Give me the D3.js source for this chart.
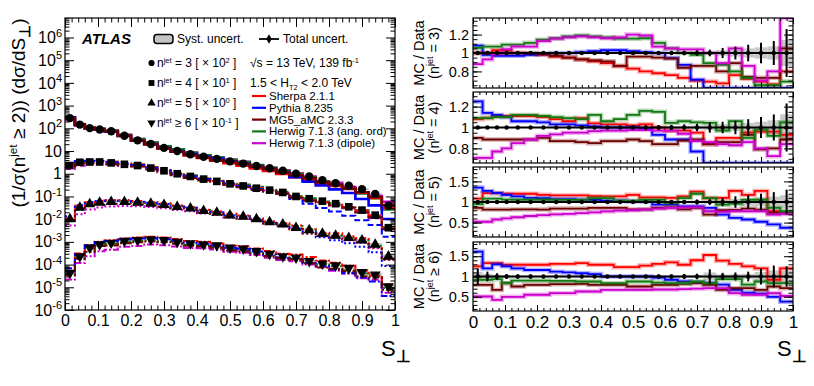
<!DOCTYPE html>
<html>
<head>
<meta charset="utf-8">
<script src="https://cdn.jsdelivr.net/npm/d3@7"></script>
<style>
  body { margin: 0; background: #fff; }
  svg { display: block; font-family: "Liberation Sans", Arial, Helvetica, sans-serif; }
  text { white-space: pre; }
</style>
</head>
<body>
<div id="chart"></div>
<script>
// --------------- Data ---------------
const binEdges = [0, 0.03, 0.06, 0.09, 0.12, 0.16, 0.2, 0.24, 0.28, 0.32, 0.36, 0.4, 0.44,
  0.48, 0.52, 0.56, 0.6, 0.64, 0.68, 0.72, 0.76, 0.8, 0.84, 0.88, 0.92, 0.96, 1.0];

// measured distributions, already multiplied by the legend factors
const data3 = [282, 145, 102, 89, 74, 47, 29.5, 20.4, 13.8, 10, 7.2, 5.6, 4.5, 3.5, 2.8, 2.2,
  1.74, 1.35, 1.0, 0.76, 0.52, 0.38, 0.3, 0.21, 0.13, 0.039];
const data4 = [2.3, 3.2, 3.3, 3.3, 3.0, 2.6, 2.3, 1.78, 1.35, 1.0, 0.76, 0.58, 0.46, 0.36, 0.29,
  0.23, 0.19, 0.15, 0.1, 0.079, 0.062, 0.048, 0.035, 0.025, 0.015, 0.0042];
const data5 = [0.01, 0.032, 0.046, 0.054, 0.058, 0.058, 0.054, 0.049, 0.043, 0.035, 0.03, 0.023,
  0.0195, 0.0148, 0.0129, 0.01, 0.0074, 0.0059, 0.0042, 0.0033, 0.0023, 0.0019, 0.0015, 0.00117,
  0.00076, 0.00023];
const data6 = [4.3e-5, 2.3e-4, 5.5e-4, 7.8e-4, 9.1e-4, 1.1e-3, 1.2e-3, 1.29e-3, 1.2e-3, 1.0e-3,
  8.5e-4, 7.8e-4, 6.9e-4, 5.5e-4, 5.0e-4, 3.9e-4, 2.95e-4, 2.3e-4, 2.0e-4, 1.4e-4, 1.1e-4, 9.1e-5,
  7.1e-5, 4.6e-5, 3.6e-5, 1.1e-5];

// relative total uncertainty of the data
const err3 = [0.008, 0.008, 0.008, 0.008, 0.008, 0.008, 0.008, 0.008, 0.008, 0.009, 0.01, 0.011,
  0.012, 0.013, 0.015, 0.017, 0.02, 0.024, 0.03, 0.036, 0.055, 0.07, 0.09, 0.11, 0.13, 0.26];
const err4 = [0.01, 0.01, 0.01, 0.01, 0.01, 0.01, 0.01, 0.01, 0.01, 0.012, 0.013, 0.014, 0.015,
  0.017, 0.02, 0.022, 0.025, 0.03, 0.035, 0.05, 0.055, 0.065, 0.08, 0.1, 0.125, 0.23];
const err5 = [0.03, 0.02, 0.02, 0.02, 0.02, 0.02, 0.02, 0.02, 0.02, 0.02, 0.025, 0.025, 0.03,
  0.03, 0.03, 0.035, 0.04, 0.05, 0.06, 0.07, 0.1, 0.14, 0.17, 0.2, 0.24, 0.3];
const err6 = [0.2, 0.12, 0.08, 0.06, 0.05, 0.05, 0.04, 0.04, 0.04, 0.04, 0.04, 0.04, 0.04, 0.04,
  0.04, 0.05, 0.05, 0.06, 0.07, 0.18, 0.09, 0.1, 0.12, 0.2, 0.27, 0.25];

// MC / Data ratios
const sherpa3 = [1.0, 1.0, 1.03, 1.03, 1.0, 0.99, 0.98, 0.96, 0.95, 0.93, 0.91, 0.89, 0.86, 0.83,
  0.8, 0.78, 0.76, 0.73, 0.7, 0.69, 0.67, 0.76, 0.72, 0.69, 0.66, 0.8];
const pythia3 = [1.08, 0.98, 0.97, 0.97, 0.97, 0.98, 0.99, 1.0, 1.0, 1.01, 1.02, 1.03, 1.03, 1.02,
  1.01, 1.0, 0.945, 0.87, 0.71, 0.59, 0.58, 0.54, 0.47, 0.37, 0.31, 0.26];
const mg53 = [1.0, 1.0, 1.0, 1.0, 1.0, 1.0, 0.99, 0.97, 0.95, 0.93, 0.92, 0.91, 0.86, 0.96, 0.96,
  0.95, 0.94, 0.84, 0.86, 0.86, 0.8, 0.89, 0.74, 0.73, 0.73, 1.05];
const herwigAng3 = [1.055, 1.07, 1.07, 1.09, 1.09, 1.11, 1.145, 1.16, 1.18, 1.19, 1.18, 1.17,
  1.155, 1.155, 1.16, 1.11, 1.05, 1.0, 0.98, 0.89, 0.87, 0.8, 0.73, 0.65, 0.65, 0.69];
const herwigDip3 = [0.88, 0.93, 0.99, 1.04, 1.07, 1.07, 1.13, 1.155, 1.17, 1.18, 1.17, 1.16, 1.17,
  1.2, 1.19, 1.07, 1.05, 1.04, 1.04, 1.0, 0.89, 1.05, 0.86, 0.7, 0.8, 1.5];

const sherpa4 = [1.08, 1.09, 1.11, 1.11, 1.11, 1.11, 1.1, 1.08, 1.06, 1.09, 1.04, 1.03, 1.03, 1.02,
  1.03, 1.0, 0.97, 0.97, 0.95, 0.84, 0.9, 0.9, 0.95, 0.96, 0.96, 0.93];
const pythia4 = [1.25, 1.14, 1.12, 1.1, 1.06, 1.06, 1.05, 1.03, 1.03, 1.02, 1.01, 1.0, 1.0, 1.0,
  0.99, 0.93, 0.885, 0.885, 0.77, 0.6, 0.5, 0.45, 0.4, 0.36, 0.37, 0.4];
const mg54 = [0.9, 0.885, 0.885, 0.885, 0.885, 0.885, 0.9, 0.87, 0.87, 0.86, 0.85, 0.87, 0.87,
  0.885, 0.87, 0.84, 0.84, 0.875, 0.885, 0.84, 0.86, 0.86, 0.93, 0.79, 0.8, 0.885];
const herwigAng4 = [1.09, 1.09, 1.1, 1.1, 1.12, 1.12, 1.11, 1.1, 1.09, 1.08, 1.12, 1.06, 1.08,
  1.12, 1.16, 1.15, 1.045, 1.06, 1.05, 1.045, 0.97, 1.06, 0.9, 0.98, 0.92, 1.05];
const herwigDip4 = [0.71, 0.71, 0.77, 0.8, 0.85, 0.885, 0.92, 0.935, 0.95, 0.95, 0.965, 0.97, 0.97,
  0.975, 0.975, 0.97, 0.97, 0.94, 0.87, 0.86, 0.84, 0.83, 0.86, 0.8, 0.725, 0.84];

const sherpa5 = [1.08, 1.215, 1.215, 1.2, 1.2, 1.2, 1.175, 1.16, 1.16, 1.16, 1.14, 1.135, 1.135,
  1.175, 1.11, 1.11, 1.1, 1.135, 1.25, 1.1, 1.1, 1.27, 1.175, 1.27, 0.775, 0.74];
const pythia5 = [1.35, 1.27, 1.22, 1.175, 1.135, 1.1, 1.095, 1.07, 1.07, 1.055, 1.055, 1.03, 1.03,
  1.015, 1.015, 0.935, 0.935, 0.895, 0.895, 0.855, 0.695, 0.615, 0.575, 0.52, 0.455, 0.375];
const mg55 = [0.855, 0.815, 0.815, 0.815, 0.82, 0.82, 0.815, 0.84, 0.84, 0.84, 0.855, 0.855, 0.855,
  0.82, 0.82, 0.855, 0.87, 0.82, 0.855, 0.695, 0.8, 0.81, 0.84, 0.815, 0.735, 0.735];
const herwigAng5 = [0.95, 1.08, 1.08, 1.06, 1.055, 1.055, 1.055, 1.05, 1.05, 1.05, 1.095, 1.095,
  1.03, 1.03, 1.055, 1.055, 0.975, 1.095, 1.2, 1.095, 0.935, 0.96, 1.05, 1.055, 0.855, 0.775];
const herwigDip5 = [0.52, 0.52, 0.575, 0.6, 0.63, 0.66, 0.68, 0.7, 0.71, 0.73, 0.75, 0.77, 0.79,
  0.8, 0.815, 0.84, 0.855, 0.87, 0.87, 0.775, 0.76, 0.775, 0.775, 0.775, 0.695, 0.71];

const sherpa6 = [1.25, 1.33, 1.33, 1.29, 1.29, 1.29, 1.29, 1.31, 1.31, 1.33, 1.29, 1.29, 1.23,
  1.23, 1.27, 1.31, 1.35, 1.29, 1.4, 1.53, 1.39, 1.31, 1.25, 1.2, 0.92, 1.2];
const pythia6 = [1.615, 1.2, 1.3, 1.25, 1.2, 1.16, 1.16, 1.12, 1.1, 1.08, 1.06, 1.0, 1.0, 1.0, 1.0,
  0.97, 0.92, 0.88, 0.86, 0.84, 0.8, 0.67, 0.6, 0.58, 0.5, 0.38];
const mg56 = [0.795, 0.795, 0.67, 0.836, 0.754, 0.795, 0.795, 0.81, 0.81, 0.82, 0.795, 0.795, 0.795,
  0.754, 0.754, 0.795, 0.795, 0.82, 0.836, 0.795, 0.67, 0.713, 0.713, 0.67, 0.754, 0.713];
const herwigAng6 = [0.915, 0.915, 0.935, 0.836, 0.9, 0.9, 0.9, 0.89, 0.89, 0.877, 0.877, 0.836,
  0.836, 0.877, 0.877, 0.85, 0.836, 0.836, 0.877, 0.836, 0.935, 0.935, 0.8, 0.877, 0.836, 0.836];
const herwigDip6 = [0.507, 0.507, 0.426, 0.5, 0.5, 0.55, 0.55, 0.59, 0.59, 0.63, 0.63, 0.672,
  0.672, 0.672, 0.672, 0.68, 0.68, 0.69, 0.7, 0.713, 0.713, 0.59, 0.55, 0.55, 0.59, 0.52];

const mcNames = ["Sherpa 2.1.1", "Pythia 8.235", "MG5_aMC 2.3.3", "Herwig 7.1.3 (ang. ord)",
  "Herwig 7.1.3 (dipole)"];
const mcColors = ["#ff0000", "#0000ff", "#6e0000", "#127a12", "#cc00cc"];
const nJetText = ["= 3", "= 4", "= 5", "≥ 6"];
const scaleExp = ["2", "1", "0", "-1"];
const xTickValues = [0, 0.1, 0.2, 0.3, 0.4, 0.5, 0.6, 0.7, 0.8, 0.9, 1];
const logTickValues = [1e-6, 1e-5, 1e-4, 1e-3, 1e-2, 1e-1, 1, 10, 1e2, 1e3, 1e4, 1e5, 1e6];

const dataSets = [data3, data4, data5, data6];
const errSets = [err3, err4, err5, err6];
const ratioSets = [
  [sherpa3, pythia3, mg53, herwigAng3, herwigDip3],
  [sherpa4, pythia4, mg54, herwigAng4, herwigDip4],
  [sherpa5, pythia5, mg55, herwigAng5, herwigDip5],
  [sherpa6, pythia6, mg56, herwigAng6, herwigDip6],
];

// --------------- Constants ---------------
const W = 814, H = 386;
const MAIN = { left: 65, right: 395, top: 18, bottom: 310 };
const RATIO = { left: 473, right: 793 };
const PANELS = [
  { top: 18, bottom: 88, domain: [0.62, 1.38], major: [0.8, 1, 1.2], minor: 0.05 },
  { top: 92, bottom: 163, domain: [0.66, 1.34], major: [0.8, 1, 1.2], minor: 0.05 },
  { top: 167, bottom: 237, domain: [0.15, 1.85], major: [0.5, 1, 1.5], minor: 0.1 },
  { top: 242, bottom: 311, domain: [0.15, 1.85], major: [0.5, 1, 1.5], minor: 0.1 },
];
const DASHES = [null, "6,3", "2,2.5", "7,2,2,2"];
const MARKERS = [d3.symbolCircle, d3.symbolSquare, d3.symbolTriangle, d3.symbolTriangle];
const MAIN_ORDER = [4, 3, 0, 1, 2];
const LEG_FONT = 11.5;

// --------------- Prep SVG ---------------
const svg = d3.select("#chart").append("svg").attr("width", W).attr("height", H);
const defs = svg.append("defs");

const rich = (parent, parts, size) => {
  const t = parent.append("text").attr("font-size", size).attr("fill", "#000");
  let shift = 0;
  parts.forEach(([str, kind, opt]) => {
    const target = kind === "sup" ? -size * 0.4 : kind === "sub" ? size * 0.25 : 0;
    const ts = t.append("tspan").attr("dy", (target - shift).toFixed(2)).text(str);
    if (kind) ts.attr("font-size", size * ((opt && opt.scale) || 0.62));
    if (opt && opt.bold) ts.attr("font-weight", "bold");
    shift = target;
  });
  return t;
};

const styleAxis = (g) => {
  g.attr("font-family", null).attr("font-size", null);
  g.select(".domain").remove();
  g.selectAll(".tick line").attr("stroke", "#000").attr("stroke-width", 1);
  g.selectAll(".tick text").attr("fill", "#000");
};

const stepPoints = (vals) => binEdges.map((e, i) => [e, vals[Math.min(i, vals.length - 1)]]);
const centers = binEdges.slice(0, -1).map((e, i) => (e + binEdges[i + 1]) / 2);

// --------------- Main panel ---------------
const x = d3.scaleLinear().domain([0, 1]).range([MAIN.left, MAIN.right]);
const y = d3.scaleLog().domain([1e-6, 7.2e6]).range([MAIN.bottom, MAIN.top]).clamp(true);

defs.append("clipPath").attr("id", "clip-main").append("rect")
  .attr("x", MAIN.left).attr("y", MAIN.top)
  .attr("width", MAIN.right - MAIN.left).attr("height", MAIN.bottom - MAIN.top);

const mainG = svg.append("g").attr("clip-path", "url(#clip-main)");
const mainLine = d3.line().x((d) => x(d[0])).y((d) => y(d[1])).curve(d3.curveStepAfter);

dataSets.forEach((data, k) => {
  const err = errSets[k];
  // systematic band
  mainG.append("g").selectAll("rect").data(data).join("rect")
    .attr("x", (d, i) => x(binEdges[i]))
    .attr("width", (d, i) => x(binEdges[i + 1]) - x(binEdges[i]))
    .attr("y", (d, i) => y(d * (1 + err[i] * 0.7)))
    .attr("height", (d, i) => Math.max(0.5, y(d * (1 - err[i] * 0.7)) - y(d * (1 + err[i] * 0.7))))
    .attr("fill", "#bdbdbd");
  MAIN_ORDER.forEach((m) => {
    const ratio = ratioSets[k][m];
    const vals = data.map((d, i) => d * ratio[i]);
    mainG.append("path")
      .attr("d", mainLine(stepPoints(vals)))
      .attr("fill", "none")
      .attr("stroke", mcColors[m])
      .attr("stroke-width", k === 0 ? 2.6 : 2)
      .attr("stroke-dasharray", DASHES[k]);
  });
});

dataSets.forEach((data, k) => {
  const err = errSets[k];
  svg.append("g").selectAll("line").data(data).join("line")
    .attr("x1", (d, i) => x(centers[i])).attr("x2", (d, i) => x(centers[i]))
    .attr("y1", (d, i) => y(d * (1 + err[i]))).attr("y2", (d, i) => y(d * (1 - err[i])))
    .attr("stroke", "#000").attr("stroke-width", 1.5);
  const sym = d3.symbol().type(MARKERS[k]).size(k === 1 ? 58 : k === 0 ? 55 : 52);
  svg.append("g").selectAll("path").data(data).join("path")
    .attr("d", sym)
    .attr("transform", (d, i) => `translate(${x(centers[i])},${y(d)})${k === 3 ? " rotate(180)" : ""}`)
    .attr("fill", "#000");
});

// axes of main panel
const xMinor = d3.range(0, 1.0001, 0.02);
const yMinor = y.ticks(60).filter((v) => !logTickValues.some((t) => Math.abs(t - v) / t < 1e-6));

svg.append("g").attr("transform", `translate(0,${MAIN.bottom})`)
  .call(d3.axisBottom(x).tickValues(xTickValues).tickSize(-9).tickPadding(5).tickFormat(d3.format("~g")))
  .call(styleAxis)
  .call((g) => g.selectAll(".tick text").attr("font-size", 16));
svg.append("g").attr("transform", `translate(0,${MAIN.bottom})`)
  .call(d3.axisBottom(x).tickValues(xMinor).tickSize(-4.5).tickFormat("")).call(styleAxis);
svg.append("g").attr("transform", `translate(0,${MAIN.top})`)
  .call(d3.axisTop(x).tickValues(xTickValues).tickSize(-9).tickFormat("")).call(styleAxis);
svg.append("g").attr("transform", `translate(0,${MAIN.top})`)
  .call(d3.axisTop(x).tickValues(xMinor).tickSize(-4.5).tickFormat("")).call(styleAxis);

svg.append("g").attr("transform", `translate(${MAIN.left},0)`)
  .call(d3.axisLeft(y).tickValues(logTickValues).tickSize(-9).tickPadding(3).tickFormat(""))
  .call(styleAxis)
  .call((g) => g.selectAll(".tick text").attr("font-size", 16).each(function (d) {
    const e = Math.round(Math.log10(d));
    const t = d3.select(this);
    if (e === 0) { t.text("1"); return; }
    t.append("tspan").text("10");
    if (e !== 1) t.append("tspan").attr("font-size", 11).attr("dy", -6.5).text(e);
  }));
svg.append("g").attr("transform", `translate(${MAIN.left},0)`)
  .call(d3.axisLeft(y).tickValues(yMinor).tickSize(-4.5).tickFormat("")).call(styleAxis);
svg.append("g").attr("transform", `translate(${MAIN.right},0)`)
  .call(d3.axisRight(y).tickValues(logTickValues).tickSize(-9).tickFormat("")).call(styleAxis);
svg.append("g").attr("transform", `translate(${MAIN.right},0)`)
  .call(d3.axisRight(y).tickValues(yMinor).tickSize(-4.5).tickFormat("")).call(styleAxis);

svg.append("rect")
  .attr("x", MAIN.left).attr("y", MAIN.top)
  .attr("width", MAIN.right - MAIN.left).attr("height", MAIN.bottom - MAIN.top)
  .attr("fill", "none").attr("stroke", "#000").attr("stroke-width", 1.2);

// titles
rich(svg, [["(1/σ(n"], ["jet", "sup"], [" ≥ 2)) (dσ/dS"], ["⊥", "sub", { bold: true, scale: 0.8 }], [")"]], 19)
  .attr("text-anchor", "middle")
  .attr("transform", "translate(18,113) rotate(-90)")
  .attr("y", 7);
rich(svg, [["S"], ["⊥", "sub", { bold: true, scale: 0.75 }]], 22).attr("x", 381).attr("y", 356);
rich(svg, [["S"], ["⊥", "sub", { bold: true, scale: 0.75 }]], 22).attr("x", 777).attr("y", 356);

// --------------- Legend ---------------
const leg = svg.append("g");
leg.append("text").attr("x", 82).attr("y", 44).attr("font-size", 15)
  .attr("font-weight", "bold").attr("font-style", "italic").text("ATLAS");

leg.append("rect").attr("x", 154).attr("y", 34.5).attr("width", 19).attr("height", 9).attr("rx", 3)
  .attr("fill", "#c4c4c4").attr("stroke", "#000").attr("stroke-width", 1.5);
leg.append("text").attr("x", 177).attr("y", 43).attr("font-size", 12).text("Syst. uncert.");
leg.append("line").attr("x1", 259).attr("x2", 279).attr("y1", 39).attr("y2", 39)
  .attr("stroke", "#000").attr("stroke-width", 1.8);
leg.append("path").attr("d", d3.symbol().type(d3.symbolDiamond).size(26))
  .attr("transform", "translate(269,39)").attr("fill", "#000");
leg.append("text").attr("x", 283).attr("y", 43).attr("font-size", 12).text("Total uncert.");

nJetText.forEach((txt, k) => {
  const yy = 63 + k * 20;
  leg.append("path").attr("d", d3.symbol().type(MARKERS[k]).size(k === 1 ? 34 : 30))
    .attr("transform", `translate(151.5,${yy})${k === 3 ? " rotate(180)" : ""}`).attr("fill", "#000");
  rich(leg, [["n"], ["jet", "sup"], [` ${txt} [ × 10`], [scaleExp[k], "sup"], [" ]"]], 12)
    .attr("x", 157).attr("y", yy + 4.3);
});

rich(leg, [["√s = 13 TeV, 139 fb"], ["-1", "sup"]], 12).attr("x", 250).attr("y", 67.3);
rich(leg, [["1.5 < H"], ["T2", "sub"], [" < 2.0 TeV"]], 12).attr("x", 250).attr("y", 86.5);

mcNames.forEach((name, m) => {
  const yy = 96 + m * 11.8;
  leg.append("line").attr("x1", 252).attr("x2", 266).attr("y1", yy).attr("y2", yy)
    .attr("stroke", mcColors[m]).attr("stroke-width", 2.2);
  leg.append("text").attr("x", 269).attr("y", yy + 4).attr("font-size", LEG_FONT).text(name);
});

// --------------- Ratio panels ---------------
const xr = d3.scaleLinear().domain([0, 1]).range([RATIO.left, RATIO.right]);
const ratioNJet = [[" = 3)"], [" = 4)"], [" = 5)"], [" ≥ 6)"]];

PANELS.forEach((p, k) => {
  const yr = d3.scaleLinear().domain(p.domain).range([p.bottom, p.top]).clamp(true);
  const err = errSets[k];
  const clipId = `clip-r${k}`;
  defs.append("clipPath").attr("id", clipId).append("rect")
    .attr("x", RATIO.left).attr("y", p.top)
    .attr("width", RATIO.right - RATIO.left).attr("height", p.bottom - p.top);
  const g = svg.append("g").attr("clip-path", `url(#${clipId})`);

  // syst band of the data
  g.append("g").selectAll("rect").data(err).join("rect")
    .attr("x", (d, i) => xr(binEdges[i]))
    .attr("width", (d, i) => xr(binEdges[i + 1]) - xr(binEdges[i]))
    .attr("y", (d) => yr(1 + d * 0.55))
    .attr("height", (d) => yr(1 - d * 0.55) - yr(1 + d * 0.55))
    .attr("fill", "#c8c8c8");

  const line = d3.line().x((d) => xr(d[0])).y((d) => yr(d[1])).curve(d3.curveStepAfter);
  ratioSets[k].forEach((ratio, m) => {
    const dpath = line(stepPoints(ratio));
    g.append("path").attr("d", dpath).attr("fill", "none")
      .attr("stroke", mcColors[m]).attr("stroke-opacity", 0.3).attr("stroke-width", 4.5);
    g.append("path").attr("d", dpath).attr("fill", "none")
      .attr("stroke", mcColors[m]).attr("stroke-width", 1.8);
  });

  // data at unity
  g.append("line").attr("x1", xr(0)).attr("x2", xr(1)).attr("y1", yr(1)).attr("y2", yr(1))
    .attr("stroke", "#000").attr("stroke-width", 2);
  g.append("g").selectAll("line").data(err).join("line")
    .attr("x1", (d, i) => xr(centers[i])).attr("x2", (d, i) => xr(centers[i]))
    .attr("y1", (d) => yr(1 + d)).attr("y2", (d) => yr(1 - d))
    .attr("stroke", "#000").attr("stroke-width", 2);
  g.append("g").selectAll("circle").data(err).join("circle")
    .attr("cx", (d, i) => xr(centers[i])).attr("cy", yr(1)).attr("r", 2.2).attr("fill", "#000");

  // axes
  const yMinorR = d3.range(Math.ceil(p.domain[0] / p.minor) * p.minor, p.domain[1], p.minor);
  svg.append("g").attr("transform", `translate(${RATIO.left},0)`)
    .call(d3.axisLeft(yr).tickValues(p.major).tickSize(-9).tickPadding(4).tickFormat(d3.format("~g")))
    .call(styleAxis)
    .call((gg) => gg.selectAll(".tick text").attr("font-size", 14.5));
  svg.append("g").attr("transform", `translate(${RATIO.left},0)`)
    .call(d3.axisLeft(yr).tickValues(yMinorR).tickSize(-4.5).tickFormat("")).call(styleAxis);
  svg.append("g").attr("transform", `translate(${RATIO.right},0)`)
    .call(d3.axisRight(yr).tickValues(p.major).tickSize(-9).tickFormat("")).call(styleAxis);
  svg.append("g").attr("transform", `translate(${RATIO.right},0)`)
    .call(d3.axisRight(yr).tickValues(yMinorR).tickSize(-4.5).tickFormat("")).call(styleAxis);

  const bottomAxis = d3.axisBottom(xr).tickValues(xTickValues).tickSize(-6).tickPadding(5);
  svg.append("g").attr("transform", `translate(0,${p.bottom})`)
    .call(k === 3 ? bottomAxis.tickFormat(d3.format("~g")) : bottomAxis.tickFormat(""))
    .call(styleAxis)
    .call((gg) => gg.selectAll(".tick text").attr("font-size", 17));
  svg.append("g").attr("transform", `translate(0,${p.bottom})`)
    .call(d3.axisBottom(xr).tickValues(xMinor).tickSize(-3).tickFormat("")).call(styleAxis);
  svg.append("g").attr("transform", `translate(0,${p.top})`)
    .call(d3.axisTop(xr).tickValues(xTickValues).tickSize(-6).tickFormat("")).call(styleAxis);
  svg.append("g").attr("transform", `translate(0,${p.top})`)
    .call(d3.axisTop(xr).tickValues(xMinor).tickSize(-3).tickFormat("")).call(styleAxis);

  svg.append("rect")
    .attr("x", RATIO.left).attr("y", p.top)
    .attr("width", RATIO.right - RATIO.left).attr("height", p.bottom - p.top)
    .attr("fill", "none").attr("stroke", "#000").attr("stroke-width", 1.2);

  const cy = (p.top + p.bottom) / 2;
  svg.append("text").attr("font-size", 14.5).attr("text-anchor", "middle")
    .attr("transform", `translate(419,${cy}) rotate(-90)`).attr("y", 5).text("MC / Data");
  rich(svg, [["(n"], ["jet", "sup"], ratioNJet[k]], 14.5)
    .attr("text-anchor", "middle")
    .attr("transform", `translate(434,${cy}) rotate(-90)`).attr("y", 5);
});
</script>
</body>
</html>
